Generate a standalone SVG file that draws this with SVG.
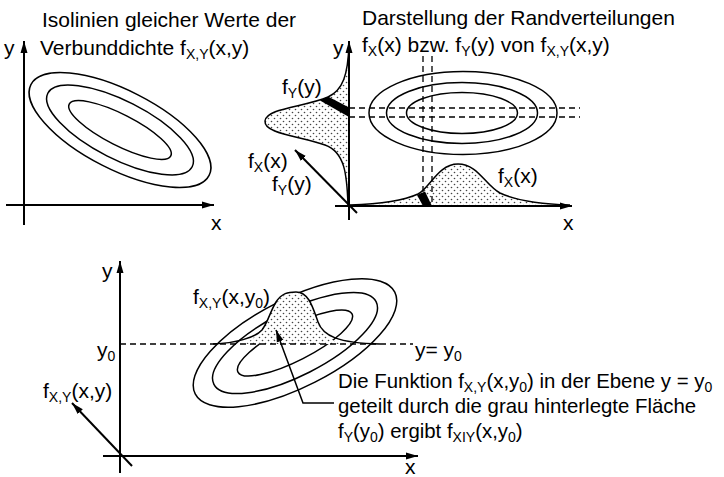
<svg xmlns="http://www.w3.org/2000/svg" width="724" height="477" viewBox="0 0 724 477">
<style>
text{font-family:"Liberation Sans",Arial,sans-serif;font-size:21px;fill:#000}
.sub{font-size:14px}
.note{font-size:20.4px}
.ln{fill:none;stroke:#000;stroke-width:1.5}
.ax{fill:none;stroke:#000;stroke-width:2}
.ar{marker-end:url(#ah)}
.ds{fill:none;stroke:#000;stroke-width:1.3;stroke-dasharray:6,4}
.dot{fill:url(#stip);stroke:none}
.band{fill:#000;stroke:none}
</style>
<defs>
<marker id="ah" viewBox="0 0 12 8" refX="12" refY="4" markerWidth="12" markerHeight="8" markerUnits="userSpaceOnUse" orient="auto">
<path d="M0,0.5 L12,4 L0,7.5 z" fill="#000"/>
</marker>
<pattern id="stip" width="6" height="6" patternUnits="userSpaceOnUse">
<rect width="6" height="6" fill="#fff"/>
<circle cx="1.5" cy="1.5" r="0.8" fill="#444"/>
<circle cx="4.5" cy="4.5" r="0.8" fill="#444"/>
</pattern>
</defs>

<g id="panel1">
<text x="42" y="27">Isolinien gleicher Werte der</text>
<text x="40" y="55">Verbunddichte f<tspan class="sub" dy="4">X,Y</tspan><tspan dy="-4">(x,y)</tspan></text>
<text x="4" y="55">y</text>
<text x="211" y="230">x</text>
<g id="p1-ellipses" transform="translate(120,130) rotate(27)">
<ellipse class="ln" rx="100" ry="39.5"/>
<ellipse class="ln" rx="81" ry="29"/>
<ellipse class="ln" rx="57" ry="15.6"/>
</g>
</g>

<g id="panel2">
<text x="362" y="25">Darstellung der Randverteilungen</text>
<text x="362" y="52">f<tspan class="sub" dy="4">X</tspan><tspan dy="-4">(x) bzw. f</tspan><tspan class="sub" dy="4">Y</tspan><tspan dy="-4">(y) von f</tspan><tspan class="sub" dy="4">X,Y</tspan><tspan dy="-4">(x,y)</tspan></text>
<text x="333" y="55">y</text>
<text x="563" y="230">x</text>
<g id="p2-ellipses">
<ellipse class="ln" cx="463" cy="113" rx="94" ry="41.5"/>
<ellipse class="ln" cx="462" cy="113" rx="75.5" ry="30.5"/>
<ellipse class="ln" cx="462" cy="113" rx="55.5" ry="20.5"/>
</g>
<g id="fy-marginal">
<path class="dot" d="M349,44 C348,75 343,90 328,97 C305,107 266,108 265,121 C264,134 300,136 325,145 C345,152 347,175 348,205 L349,205 Z"/>
<path class="ln" d="M349,44 C348,75 343,90 328,97 C305,107 266,108 265,121 C264,134 300,136 325,145 C345,152 347,175 348,205"/>
<polygon class="band" points="328,96.5 349,107.5 349,117 320,100.5"/>
<text x="282" y="94">f<tspan class="sub" dy="4">Y</tspan><tspan dy="-4">(y)</tspan></text>
</g>
<g id="fx-marginal">
<path class="dot" d="M350,205 C380,204 405,200 418,194 C430,188 438,164 458,164 C478,164 485,185 500,193 C515,200 540,204 570,205 Z"/>
<path class="ln" d="M350,205 C380,204 405,200 418,194 C430,188 438,164 458,164 C478,164 485,185 500,193 C515,200 540,204 570,205"/>
<polygon class="band" points="417,195 425,191.5 432,206 423,206"/>
<text x="498" y="183">f<tspan class="sub" dy="4">X</tspan><tspan dy="-4">(x)</tspan></text>
</g>
<text x="248" y="168">f<tspan class="sub" dy="4">X</tspan><tspan dy="-4">(x)</tspan></text>
<text x="272" y="191">f<tspan class="sub" dy="4">Y</tspan><tspan dy="-4">(y)</tspan></text>
</g>

<g id="panel3">
<text x="102" y="278">y</text>
<text x="97" y="357">y<tspan class="sub" dy="4">0</tspan></text>
<text x="43" y="398">f<tspan class="sub" dy="4">X,Y</tspan><tspan dy="-4">(x,y)</tspan></text>
<text x="405" y="474">x</text>
<g id="p3-ellipses" transform="translate(295,343) rotate(-27)">
<ellipse class="ln" rx="112" ry="44"/>
<ellipse class="ln" rx="91" ry="32.5"/>
<ellipse class="ln" rx="64" ry="17.5"/>
</g>
<g id="bump">
<path class="dot" d="M245,344 C255,338 262,330 268,320 C276,300 283,292 295,292 C309,292 313,308 318,322 C323,336 332,342 345,344 Z"/>
<path class="ln" d="M213,344 C235,343 255,338 262,330 C268,322 270,312 276,302 C282,293 288,292 296,292 C309,292 313,308 318,322 C323,336 338,343 380,344"/>
</g>
<text x="193" y="304">f<tspan class="sub" dy="4">X,Y</tspan><tspan dy="-4">(x,y</tspan><tspan class="sub" dy="4">0</tspan><tspan dy="-4">)</tspan></text>
<text x="415" y="357">y= y<tspan class="sub" dy="4">0</tspan></text>
<text class="note" x="338" y="388">Die Funktion f<tspan class="sub" dy="4">X,Y</tspan><tspan dy="-4">(x,y</tspan><tspan class="sub" dy="4">0</tspan><tspan dy="-4">) in der Ebene y = y</tspan><tspan class="sub" dy="4">0</tspan></text>
<text class="note" x="338" y="413">geteilt durch die grau hinterlegte Fläche</text>
<text class="note" x="338" y="438">f<tspan class="sub" dy="4">Y</tspan><tspan dy="-4">(y</tspan><tspan class="sub" dy="4">0</tspan><tspan dy="-4">) ergibt f</tspan><tspan class="sub" dy="4">XIY</tspan><tspan dy="-4">(x,y</tspan><tspan class="sub" dy="4">0</tspan><tspan dy="-4">)</tspan></text>
</g>

<g id="connectors">
<line class="ax ar" x1="24" y1="225" x2="24" y2="41"/>
<line class="ax ar" x1="6" y1="205" x2="214" y2="205"/>
<line class="ax ar" x1="349" y1="220" x2="349" y2="41"/>
<line class="ax ar" x1="335" y1="206" x2="572" y2="206"/>
<line class="ax ar" x1="357" y1="213" x2="295" y2="150"/>
<line class="ds" x1="349" y1="108" x2="580" y2="108"/>
<line class="ds" x1="349" y1="117" x2="580" y2="117"/>
<line class="ds" x1="423" y1="56" x2="423" y2="206"/>
<line class="ds" x1="432" y1="56" x2="432" y2="206"/>
<line class="ax ar" x1="120" y1="473" x2="120" y2="261"/>
<line class="ax ar" x1="103" y1="456" x2="418" y2="456"/>
<line class="ax ar" x1="132" y1="466" x2="72" y2="403"/>
<line class="ds" x1="120" y1="344" x2="413" y2="344"/>
<polyline class="ln ar" points="334,403 303,403 276,330"/>
</g>
</svg>
